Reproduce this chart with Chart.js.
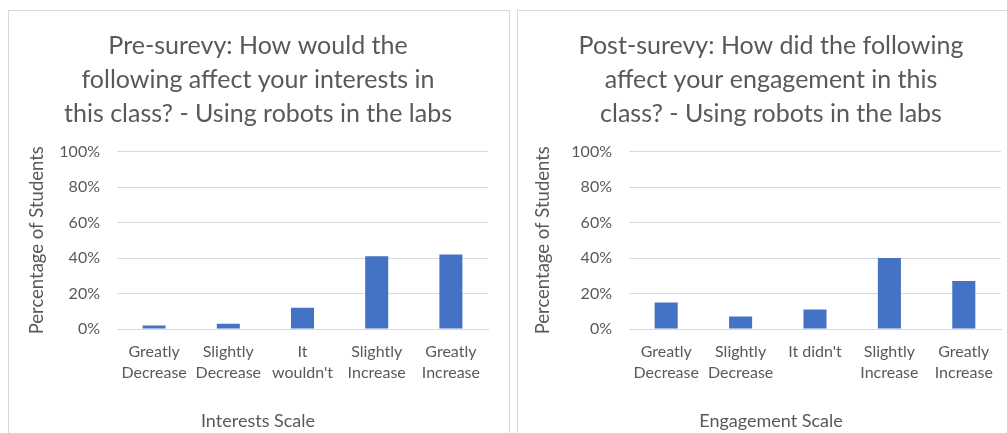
<!DOCTYPE html>
<html>
<head>
<meta charset="utf-8">
<script src="https://cdn.jsdelivr.net/npm/chart.js@4"></script>
<style>
  html, body { margin: 0; padding: 0; background: #fff; overflow: hidden; width: 1007px; height: 433px; }
  .panel { position: absolute; top: 10px; border: 1px solid #d9d9d9; background: #fff; }
  #p1 { left: 8px; }
  #p2 { left: 517px; }
  canvas { display: block; }
</style>
</head>
<body>
<div class="panel" id="p1"><canvas id="c1" width="500" height="440"></canvas></div>
<div class="panel" id="p2"><canvas id="c2" width="500" height="440"></canvas></div>
<script>
// Survey answers (share of students, %)
const preCategories = [['Greatly', 'Decrease'], ['Slightly', 'Decrease'], ['It', "wouldn't"], ['Slightly', 'Increase'], ['Greatly', 'Increase']];
const preValues = [2, 3, 12, 41, 42];
const preTitle = ['Pre-surevy: How would the', 'following affect your interests in', 'this class? - Using robots in the labs'];
const preAxisTitle = 'Interests Scale';

const postCategories = [['Greatly', 'Decrease'], ['Slightly', 'Decrease'], "It didn't", ['Slightly', 'Increase'], ['Greatly', 'Increase']];
const postValues = [15, 7, 11, 40, 27];
const postTitle = ['Post-surevy: How did the following', 'affect your engagement in this', 'class? - Using robots in the labs'];
const postAxisTitle = 'Engagement Scale';

const yAxisTitle = 'Percentage of Students';
const percentTicks = [0, 20, 40, 60, 80, 100];

const FONT = 'Lato, "Open Sans", sans-serif';
const TEXT = '#595959';
const GRID = '#d9d9d9';
const BAR = '#4472C4';

// The category-axis caption is centred on the whole panel, so it is drawn
// as a bottom subtitle rather than as the scale title.
function makeChart(id, labels, values, title, xTitle, pad, yWidth, yTitlePad) {
  return new Chart(document.getElementById(id), {
    type: 'bar',
    data: {
      labels: labels,
      datasets: [{ data: values, backgroundColor: BAR, barPercentage: 0.31, categoryPercentage: 1 }]
    },
    options: {
      responsive: false,
      animation: false,
      devicePixelRatio: 1,
      layout: { padding: pad },
      plugins: {
        legend: { display: false },
        tooltip: { enabled: false },
        title: {
          display: true,
          text: title,
          color: TEXT,
          font: { family: FONT, size: 25, weight: 'normal', lineHeight: '34px' },
          padding: { top: 7.5, bottom: 21 }
        },
        subtitle: {
          display: true,
          position: 'bottom',
          text: xTitle,
          color: TEXT,
          font: { family: FONT, size: 18, weight: 'normal', lineHeight: 1.2 },
          padding: { top: 0, bottom: 18.8 }
        }
      },
      scales: {
        x: {
          grid: { display: false, drawTicks: false },
          border: { display: true, color: GRID, width: 1 },
          ticks: { color: TEXT, font: { family: FONT, size: 16, lineHeight: 1.3 }, padding: 12.6, maxRotation: 0, autoSkip: false },
          afterFit: function (s) { s.height = 81.6; }
        },
        y: {
          min: 0,
          max: 100,
          afterBuildTicks: function (s) { s.ticks = percentTicks.map(v => ({ value: v })); },
          grid: { color: GRID, lineWidth: 1, drawTicks: false },
          border: { display: false },
          ticks: { color: TEXT, font: { family: FONT, size: 16 }, padding: 17, callback: v => v + '%' },
          title: { display: true, text: yAxisTitle, color: TEXT, font: { family: FONT, size: 18.5, lineHeight: 1 }, padding: { top: yTitlePad, bottom: 0 } },
          afterFit: function (s) { s.width = yWidth; }
        }
      }
    }
  });
}

makeChart('c1', preCategories, preValues, preTitle, preAxisTitle, { top: 10, left: 19, right: 21, bottom: 0 }, 89, -0.25);
makeChart('c2', postCategories, postValues, postTitle, postAxisTitle, { top: 10, left: 23, right: 17, bottom: 0 }, 88, -7.25);
</script>
</body>
</html>
